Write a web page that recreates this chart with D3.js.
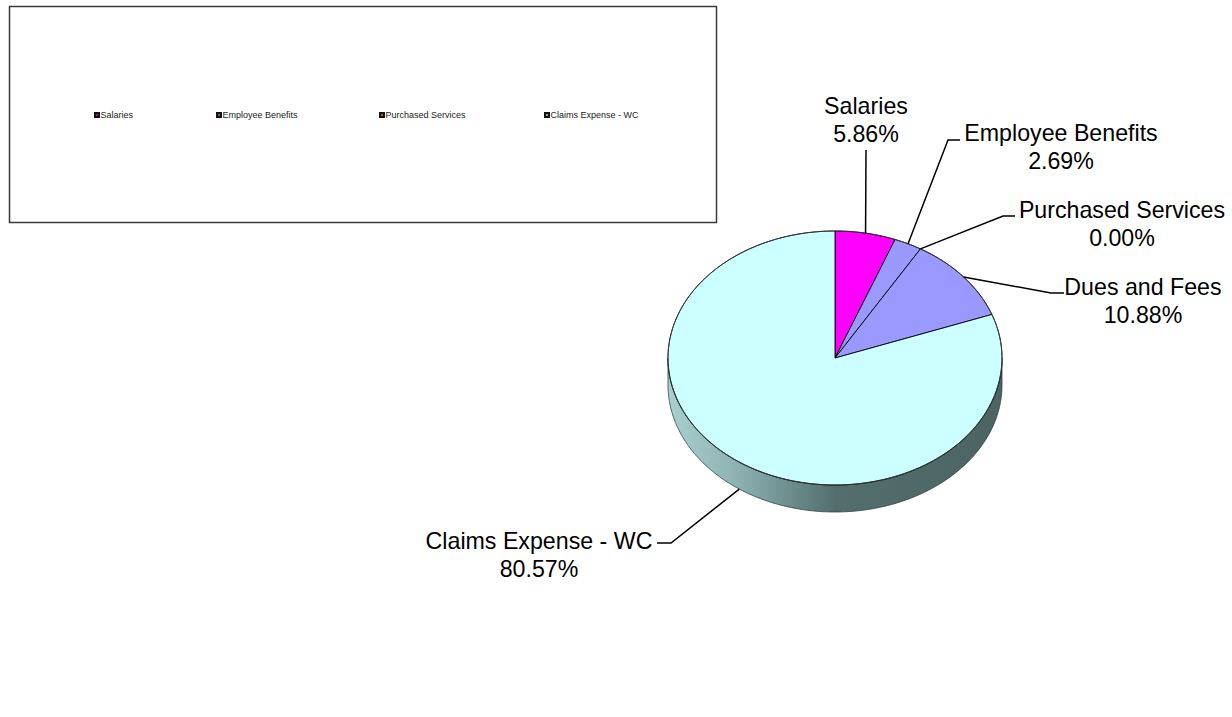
<!DOCTYPE html>
<html>
<head>
<meta charset="utf-8">
<script src="https://cdn.jsdelivr.net/npm/d3@7"></script>
<style>
  html, body { margin: 0; padding: 0; background: #fff; }
  svg { display: block; }
</style>
</head>
<body>
<svg id="chart" width="1232" height="717"></svg>
<script>
// ---- data ----
const categories = ["Salaries", "Employee Benefits", "Purchased Services", "Dues and Fees", "Claims Expense - WC"];
const values = [5.86, 2.69, 0.00, 10.88, 80.57];
const percentLabels = ["5.86%", "2.69%", "0.00%", "10.88%", "80.57%"];
const legendCategories = ["Salaries", "Employee Benefits", "Purchased Services", "Claims Expense - WC"];

// ---- styling / layout ----
const colors = {
  "Salaries": "#FF00FF",
  "Employee Benefits": "#9999FF",
  "Purchased Services": "#FF9900",
  "Dues and Fees": "#9999FF",
  "Claims Expense - WC": "#CCFFFF"
};
const pieGeom = { cx: 835, cy: 358, rx: 167, ry: 127, depth: 27 };
// label placement: text center x, first baseline y, elbow point (ex, ey) and horizontal end hx
const labelLayout = {
  "Salaries":            { tx: 866,  ty: 114, ex: 866,  ey: 150, hx: 866 },
  "Employee Benefits":   { tx: 1061, ty: 141, ex: 948,  ey: 140, hx: 960 },
  "Purchased Services":  { tx: 1122, ty: 218, ex: 1003, ey: 216, hx: 1015 },
  "Dues and Fees":       { tx: 1143, ty: 295, ex: 1051, ey: 293, hx: 1064 },
  "Claims Expense - WC": { tx: 539,  ty: 549, ex: 671,  ey: 543, hx: 657 }
};
const legendBox = { x: 9.5, y: 6.5, w: 707, h: 216 };
const legendItemX = [94, 216, 379, 544];
const legendY = 115;

const svg = d3.select("#chart");
const defs = svg.append("defs");
const grad = defs.append("linearGradient").attr("id", "sideGrad")
  .attr("x1", "0%").attr("x2", "100%").attr("y1", "0%").attr("y2", "0%");
[["0%", "#a9cfcf"], ["20%", "#8fb3b3"], ["38%", "#6a8a8a"], ["50%", "#546e6e"], ["100%", "#4b6363"]]
  .forEach(([o, c]) => grad.append("stop").attr("offset", o).attr("stop-color", c));

// ---- legend ----
const lg = svg.append("g");
lg.append("rect").attr("x", legendBox.x).attr("y", legendBox.y)
  .attr("width", legendBox.w).attr("height", legendBox.h)
  .attr("fill", "#fff").attr("stroke", "#3a3a3a").attr("stroke-width", 1.5);
legendCategories.forEach((c, i) => {
  const g = lg.append("g").attr("transform", `translate(${legendItemX[i]},${legendY})`);
  g.append("rect").attr("x", 0).attr("y", -3).attr("width", 6).attr("height", 6).attr("fill", "#111");
  g.append("rect").attr("x", 2.2).attr("y", -0.8).attr("width", 1.6).attr("height", 1.6).attr("fill", colors[c]);
  g.append("text").attr("x", 6.5).attr("y", 3.2).attr("font-family", "Liberation Sans, Arial, sans-serif")
    .attr("font-size", 9).attr("fill", "#222").text(c);
});

// ---- pie ----
const data = categories.map((c, i) => ({ cat: c, value: values[i], label: percentLabels[i] }));
const arcs = d3.pie().value(d => d.value).sort(null).startAngle(0).endAngle(2 * Math.PI)(data);
const { cx, cy, rx, ry, depth } = pieGeom;
const pt = (a, dy = 0) => [cx + rx * Math.sin(a), cy - ry * Math.cos(a) + dy];
const arcPts = (a0, a1, dy = 0) => {
  const n = Math.max(2, Math.ceil((a1 - a0) / 0.01));
  return d3.range(n + 1).map(k => pt(a0 + (a1 - a0) * k / n, dy));
};
const line = d3.line();

// sides (front half only)
const pg = svg.append("g");
arcs.forEach(a => {
  const s = Math.max(a.startAngle, Math.PI / 2), e = Math.min(a.endAngle, 3 * Math.PI / 2);
  if (e <= s) return;
  const top = arcPts(s, e);
  const bot = arcPts(s, e, depth).reverse();
  pg.append("path").attr("d", line(top.concat(bot)) + "Z")
    .attr("fill", "url(#sideGrad)").attr("stroke", "#2f3f3f").attr("stroke-width", 0.8);
});
// top faces
arcs.forEach(a => {
  if (a.endAngle - a.startAngle <= 0) return;
  const pts = [[cx, cy]].concat(arcPts(a.startAngle, a.endAngle));
  pg.append("path").attr("d", line(pts) + "Z")
    .attr("fill", colors[a.data.cat]).attr("stroke", "#000").attr("stroke-width", 0.9)
    .attr("stroke-linejoin", "round");
});
// outer rim outline
pg.append("path").attr("d", line(arcPts(0, 2 * Math.PI)) + "Z")
  .attr("fill", "none").attr("stroke", "#333").attr("stroke-width", 0.8);

// ---- labels and leaders ----
const lblG = svg.append("g");
arcs.forEach(a => {
  const L = labelLayout[a.data.cat];
  const mid = (a.startAngle + a.endAngle) / 2;
  const front = Math.cos(mid) < 0;
  const p = pt(mid, front ? depth : 0);
  lblG.append("path").attr("d", line([p, [L.ex, L.ey], [L.hx, L.ey]]))
    .attr("fill", "none").attr("stroke", "#000").attr("stroke-width", 1.5);
  const t = lblG.append("text").attr("text-anchor", "middle")
    .attr("font-family", "Liberation Sans, Arial, sans-serif").attr("font-size", 23.2).attr("fill", "#000");
  t.append("tspan").attr("x", L.tx).attr("y", L.ty).text(a.data.cat);
  t.append("tspan").attr("x", L.tx).attr("y", L.ty + 28).text(a.data.label);
});
</script>
</body>
</html>
